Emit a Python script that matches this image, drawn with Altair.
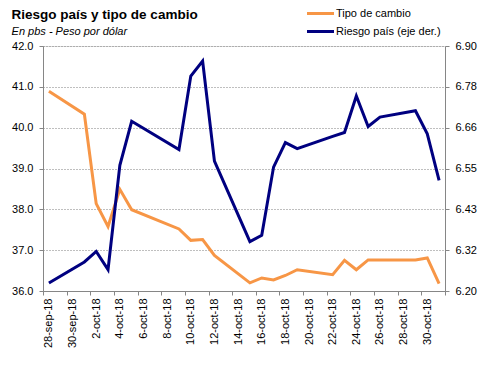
import altair as alt
import pandas as pd
import datetime as dt

# ---- data ----
fechas = ["2018-09-28", "2018-10-01", "2018-10-02", "2018-10-03", "2018-10-04", "2018-10-05",
          "2018-10-09", "2018-10-10", "2018-10-11", "2018-10-12",
          "2018-10-15", "2018-10-16", "2018-10-17", "2018-10-18", "2018-10-19",
          "2018-10-22", "2018-10-23", "2018-10-24", "2018-10-25", "2018-10-26",
          "2018-10-29", "2018-10-30", "2018-10-31"]
tipo_cambio = [40.89, 40.33, 38.14, 37.58, 38.49, 37.99,
               37.52, 37.24, 37.26, 36.87,
               36.20, 36.32, 36.27, 36.38, 36.52,
               36.40, 36.75, 36.52, 36.76, 36.76,
               36.76, 36.81, 36.18]
riesgo_pais = [6.223, 6.283, 6.313, 6.261, 6.559, 6.685,
               6.604, 6.814, 6.857, 6.571,
               6.341, 6.359, 6.554, 6.624, 6.607,
               6.642, 6.653, 6.757, 6.670, 6.697,
               6.715, 6.649, 6.516]
serie_names = ["Tipo de cambio", "Riesgo país (eje der.)"]
serie_colors = ["#F79646", "#000080"]
left_ticks = [36, 37, 38, 39, 40, 41, 42]
right_ticks = [6.20, 6.3167, 6.4333, 6.55, 6.6667, 6.7833, 6.90]
right_labels = ["6.20", "6.32", "6.43", "6.55", "6.66", "6.78", "6.90"]
meses = ["ene", "feb", "mar", "abr", "may", "jun", "jul", "ago", "sep", "oct", "nov", "dic"]

start = dt.date(2018, 9, 28)
n_days = 34
day_idx = [(dt.date.fromisoformat(f) - start).days + 0.5 for f in fechas]

df_tc = pd.DataFrame({"d": day_idx, "v": tipo_cambio, "serie": serie_names[0]})
df_rp = pd.DataFrame({"d": day_idx, "v": riesgo_pais, "serie": serie_names[1]})

label_days = list(range(0, n_days - 1, 2))
label_vals = [k + 0.5 for k in label_days]
label_txt = []
for k in label_days:
    d = start + dt.timedelta(days=k)
    label_txt.append(f"{d.day}-{meses[d.month - 1]}-{d.year % 100:02d}")
tick_vals = list(range(0, n_days + 1, 2))

FONT = "Liberation Sans"
GRAY = "#868686"

xscale = alt.Scale(domain=[0, n_days], nice=False, zero=False)
color = alt.Color(
    "serie:N",
    scale=alt.Scale(domain=serie_names, range=serie_colors),
    legend=alt.Legend(
        title=None, orient="none", legendX=269, legendY=-41,
        symbolType="M-2,0H2", symbolSize=182, symbolStrokeWidth=3,
        symbolFillColor="transparent", labelOffset=7, rowPadding=3, padding=0,
        labelFont=FONT, labelFontSize=11, labelColor="#000000",
    ),
)

orange = alt.Chart(df_tc).mark_line(strokeWidth=3).encode(
    x=alt.X("d:Q", scale=xscale,
            axis=alt.Axis(orient="bottom", values=label_vals, ticks=False, grid=False,
                          labelExpr="%s[floor(datum.value/2)]" % str(label_txt),
                          labelAngle=-90, labelPadding=7, labelFont=FONT, labelFontSize=11,
                          labelColor="#000000", domainColor=GRAY, title=None)),
    y=alt.Y("v:Q", scale=alt.Scale(domain=[36, 42], nice=False, zero=False),
            axis=alt.Axis(orient="left", values=left_ticks, format=".1f", grid=True,
                          gridDash=[1, 2], gridColor="#7f7f7f", tickColor=GRAY, tickSize=4,
                          domainColor=GRAY, labelPadding=6, labelFont=FONT, labelFontSize=11,
                          labelColor="#000000", title=None)),
    color=color,
)

navy = alt.Chart(df_rp).mark_line(strokeWidth=3).encode(
    x=alt.X("d:Q", scale=xscale,
            axis=alt.Axis(orient="bottom", values=tick_vals, labels=False, ticks=True,
                          tickSize=4, tickColor=GRAY, grid=False, domainColor=GRAY, title=None)),
    y=alt.Y("v:Q", scale=alt.Scale(domain=[6.2, 6.9], nice=False, zero=False),
            axis=alt.Axis(orient="right", values=right_ticks, grid=False,
                          labelExpr="%s[round((datum.value-6.2)/0.116667)]" % str(right_labels),
                          tickColor=GRAY, tickSize=4, domainColor=GRAY, labelPadding=6,
                          labelFont=FONT, labelFontSize=11, labelColor="#000000", title=None)),
    color=color,
)

chart = alt.layer(orange, navy).resolve_scale(
    y="independent", x="independent"
).resolve_axis(x="independent", y="independent").properties(
    width=402, height=245,
    autosize=alt.AutoSizeParams(type="none"),
    padding={"left": 35, "top": 38, "right": 40, "bottom": 81},
    title=alt.TitleParams(
        text="Riesgo país y tipo de cambio", subtitle="En pbs - Peso por dólar",
        anchor="start", dx=0, dy=32, offset=0, subtitlePadding=5,
        font=FONT, fontSize=13.5, fontWeight="bold", color="#000000",
        subtitleFont=FONT, subtitleFontSize=11, subtitleFontStyle="italic",
        subtitleColor="#000000",
    ),
).configure_view(stroke=None).configure(background="white")

chart.save("out.html", embed_options={"renderer": "svg", "actions": False})
